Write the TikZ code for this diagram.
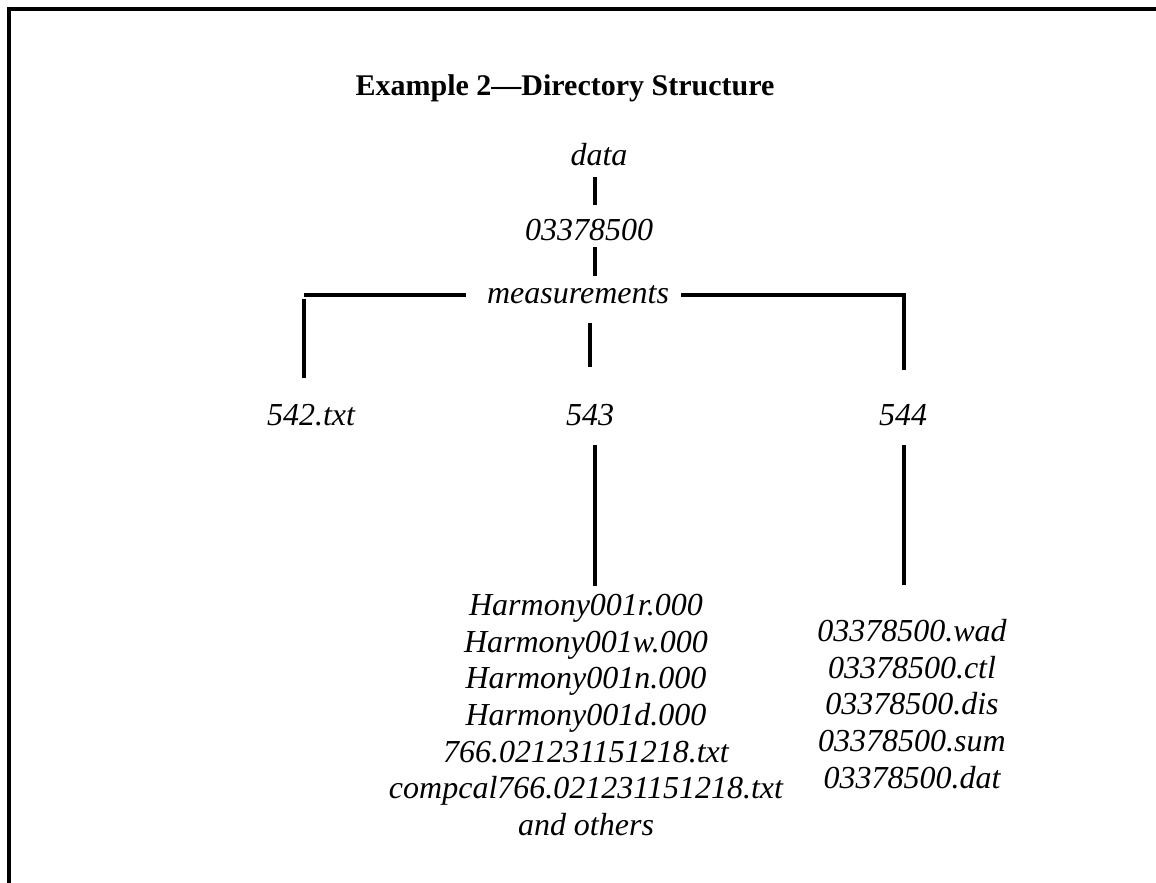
\documentclass[tikz,border=0pt]{standalone}
\usepackage{fontspec}
\setmainfont{Liberation Serif}
\usetikzlibrary{positioning}

\begin{document}
\begin{tikzpicture}[x=1pt, y=-1pt,
  d/.style={font=\fontsize{32}{36.7}\selectfont\itshape, inner sep=0pt, text height=23pt, text depth=7pt, anchor=base},
  files/.style={font=\fontsize{32}{36.7}\selectfont\itshape, inner sep=0pt, align=center, anchor=north},
  link/.style={line width=3.6pt}]
  \useasboundingbox (0,0) rectangle (1156,883);
  \draw[link] (9,883) -- (9,9) -- (1156,9);
  \node[font=\fontsize{30}{34}\selectfont\bfseries, anchor=base] (title) at (565,95) {Example 2—Directory Structure};

  \node[d] (data) at (599,165) {data};
  \node[d] (num) at (589,240) {03378500};
  \node[d] (meas) at (578,303) {measurements};
  \node[d] (f542) at (311,425) {542.txt};
  \node[d] (d543) at (590,425) {543};
  \node[d] (d544) at (903,425) {544};
  \node[files] (l543) at (586,594) {Harmony001r.000\\Harmony001w.000\\Harmony001n.000\\Harmony001d.000\\766.021231151218.txt\\compcal766.021231151218.txt\\and others};
  \node[files] (l544) at (912,619) {03378500.wad\\03378500.ctl\\03378500.dis\\03378500.sum\\03378500.dat};

  \coordinate (axis) at (595,0);
  \coordinate (lc) at (304,295);
  \coordinate (rc) at (904,295);

  \draw[link, shorten <=5pt, shorten >=12pt] (data.south -| axis) -- (num.north -| axis);
  \draw[link, shorten >=4pt] (num.south -| axis) -- (meas.north -| axis);
  \draw[link, shorten <=21pt] (meas.west) -- (lc);
  \draw[link, shorten <=4pt, shorten >=24pt] (lc) -- (lc |- f542.north);
  \draw[link, shorten <=12pt, shorten >=32pt] (meas.east) -- (rc) -- (rc |- d544.north);
  \draw[link, shorten <=13pt, shorten >=35pt] (meas.south -| d543) -- (d543.north);
  \draw[link, shorten <=13pt, shorten >=8pt] (d543.south -| axis) -- (l543.north -| axis);
  \draw[link, shorten <=13pt, shorten >=34pt] (d544.south -| rc) -- (l544.north -| rc);
\end{tikzpicture}
\end{document}
